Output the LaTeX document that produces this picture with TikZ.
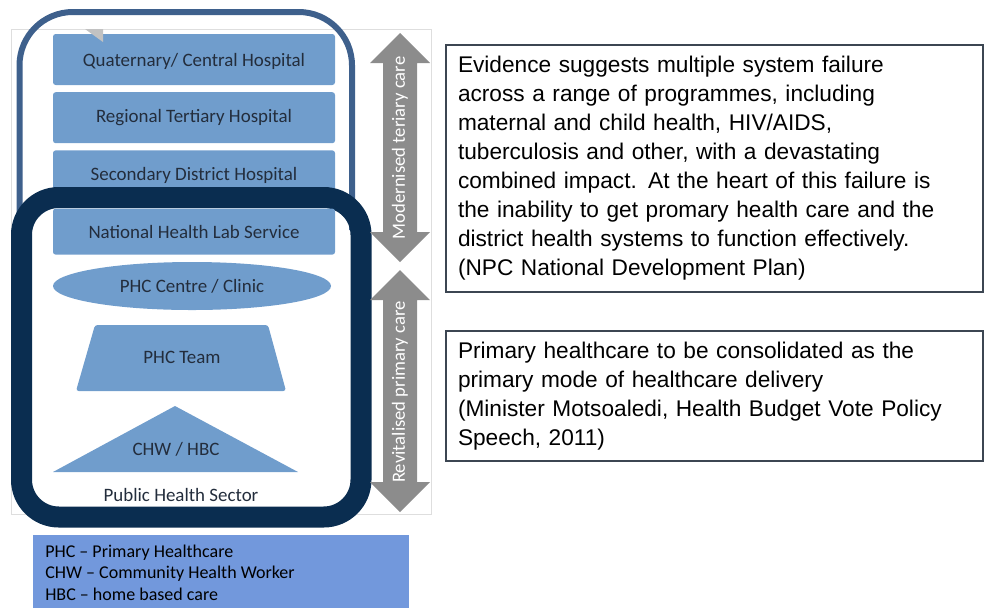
\documentclass[tikz,border=0pt]{standalone}
\usepackage{fontspec}
\setmainfont{Carlito}
\newfontfamily\quotefont{Liberation Sans}
\usetikzlibrary{positioning,shapes.geometric}

\definecolor{tierblue}{RGB}{112,157,204}
\definecolor{legendblue}{RGB}{114,152,220}
\definecolor{navybox}{RGB}{10,45,80}
\definecolor{outerblue}{RGB}{62,96,140}
\definecolor{arrowgray}{RGB}{140,140,140}
\definecolor{panelgray}{RGB}{222,222,222}
\definecolor{labelink}{RGB}{35,45,60}
\definecolor{quoteline}{RGB}{60,70,82}

\begin{document}
\begin{tikzpicture}[x=0.75pt,y=0.75pt,yscale=-1,xscale=1,
  tier/.style={fill=tierblue, rounded corners=2pt, minimum width=211.5pt, minimum height=38.25pt, inner sep=0pt, text=labelink, font=\fontsize{14.2}{16}\selectfont},
  shapelabel/.style={text=labelink, font=\fontsize{14.2}{16}\selectfont},
  carelabel/.style={rotate=90, text=white, font=\fontsize{14}{16}\selectfont},
  quotebox/.style={draw=quoteline, line width=1.1pt, text width=384.75pt, inner xsep=9pt, align=left, font=\quotefont\fontsize{17}{21.75}\selectfont}]
\useasboundingbox (0,0) rectangle (984,608);

%Shape: Rectangle [panel behind the pyramid]
\draw [draw=panelgray, line width=0.75pt] (11,29) rectangle (431,514);
%Shape: Rounded Rectangle [outer box, lower part hidden]
\draw [draw=outerblue, line width=4.5pt, rounded corners=40pt] (19.5,230) -- (19.5,12) -- (352,12) -- (352,230);

% Tiers
\node [tier, text height=13pt, text depth=2pt] (quat) at (194,59.5) {Quaternary/ Central Hospital};
\node [tier, below=5pt of quat] (reg) {Regional Tertiary Hospital};
\node [tier, below=5pt of reg] (sec) {Secondary District Hospital};

%Shape: Triangle [small grey mark]
\fill [panelgray!70!gray] (85,29) -- (103,29) -- (103,42) -- cycle ;

%Shape: Rounded Rectangle [public health sector box]
\draw [draw=navybox, line width=15.75pt, rounded corners=28pt] (21.5,197.5) rectangle (361,517);

\node [tier, minimum height=34.5pt, below=5pt of sec] (nhls) {National Health Lab Service};

%Shape: Ellipse
\node [ellipse, fill=tierblue, minimum width=208.5pt, minimum height=36pt, inner sep=0pt, shapelabel] (clinic) at (192,286) {PHC Centre / Clinic};

%Shape: Trapezoid
\fill [tierblue, rounded corners=2pt] (95,325) -- (268,325) -- (286,391) -- (76,391) -- cycle ;
\node [shapelabel] (team) at (182,357) {PHC Team};

%Shape: Triangle
\fill [tierblue] (175,406) -- (298,472) -- (53,472) -- cycle ;
\node [shapelabel] (chw) at (176,449) {CHW / HBC};

% Text Node
\node [shapelabel] (sector) at (181,495) {Public Health Sector};

%Shape: Double Arrow [tertiary]
\fill [arrowgray] (400,33) -- (430,63) -- (417,63) -- (417,232) -- (430,232) -- (400,262) -- (370,232) -- (383,232) -- (383,63) -- (370,63) -- cycle ;
\node [carelabel] (modern) at (400,148) {Modernised teriary care};

%Shape: Double Arrow [primary]
\fill [arrowgray] (400,270) -- (430,300) -- (417,300) -- (417,482) -- (430,482) -- (400,512) -- (370,482) -- (383,482) -- (383,300) -- (370,300) -- cycle ;
\node [carelabel] (revital) at (400,392) {Revitalised primary care};

% Quotes
\node [quotebox, minimum height=185.25pt] (npc) at (714.5,168.5) {Evidence suggests multiple system failure\\
across a range of programmes, including\\
maternal and child health, HIV/AIDS,\\
tuberculosis and other, with a devastating\\
combined impact. At the heart of this failure is\\
the inability to get promary health care and the\\
district health systems to function effectively.\\
(NPC National Development Plan)};
\node [quotebox, minimum height=97.5pt] (minister) at (714.5,396) {Primary healthcare to be consolidated as the\\
primary mode of healthcare delivery\\
(Minister Motsoaledi, Health Budget Vote Policy\\
Speech, 2011)};

% Legend
\fill [legendblue] (33,535) rectangle (409,608);
\node [anchor=north west, inner sep=0pt, align=left, text=black, font=\fontsize{13.5}{16.1}\selectfont] (legend) at (45,544.5) {PHC -- Primary Healthcare\\
CHW -- Community Health Worker\\
HBC -- home based care};

\end{tikzpicture}
\end{document}
